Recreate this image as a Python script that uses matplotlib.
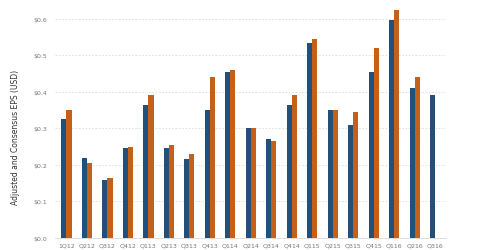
import numpy as np
import matplotlib.pyplot as plt

# quarterly EPS
quarters = ["1Q12", "Q212", "Q312", "Q412", "Q113", "Q213", "Q313", "Q413", "Q114", "Q214",
            "Q314", "Q414", "Q115", "Q215", "Q315", "Q415", "Q116", "Q216", "Q316"]
adjusted_eps = [0.325, 0.218, 0.158, 0.247, 0.365, 0.247, 0.215, 0.35, 0.453, 0.30,
                0.27, 0.363, 0.532, 0.35, 0.31, 0.453, 0.597, 0.41, 0.39]
consensus_eps = [0.35, 0.205, 0.165, 0.25, 0.39, 0.255, 0.23, 0.44, 0.46, 0.30,
                 0.265, 0.39, 0.545, 0.35, 0.345, 0.52, 0.625, 0.44, np.nan]
yticks = [0.0, 0.1, 0.2, 0.3, 0.4, 0.5, 0.6]

BLUE = "#22507a"
ORANGE = "#c5601b"

fig = plt.figure(figsize=(4.8, 2.51), dpi=100)
ax = fig.add_axes([0.115, 0.048, 0.815, 0.932])

x = np.arange(len(quarters))
w = 0.25
ax.bar(x - w / 2, adjusted_eps, width=w, color=BLUE, zorder=3)
ax.bar(x + w / 2, consensus_eps, width=w, color=ORANGE, zorder=3)

ax.set_xlim(-0.55, len(quarters) - 0.45)
ax.set_ylim(0, 0.64)
ax.set_yticks(yticks)
ax.set_yticklabels([f"${v:.1f}" for v in yticks])
ax.set_xticks(x)
ax.set_xticklabels(quarters)
ax.tick_params(axis="both", length=0, labelsize=4.5, colors="#777777", pad=3)
ax.tick_params(axis="y", pad=6)

ax.grid(axis="y", linestyle=(0, (2, 2)), linewidth=0.6, color="#dddddd", zorder=0)
for s in ["top", "right", "left"]:
    ax.spines[s].set_visible(False)
ax.spines["bottom"].set_color("#d9d9d9")
ax.spines["bottom"].set_linewidth(0.6)

ax.set_ylabel("Adjusted and Consensus EPS (USD)", fontsize=5.5, color="#333333")
ax.yaxis.set_label_coords(-0.09, 0.435)

plt.savefig("out.png", dpi=100)
plt.close()
